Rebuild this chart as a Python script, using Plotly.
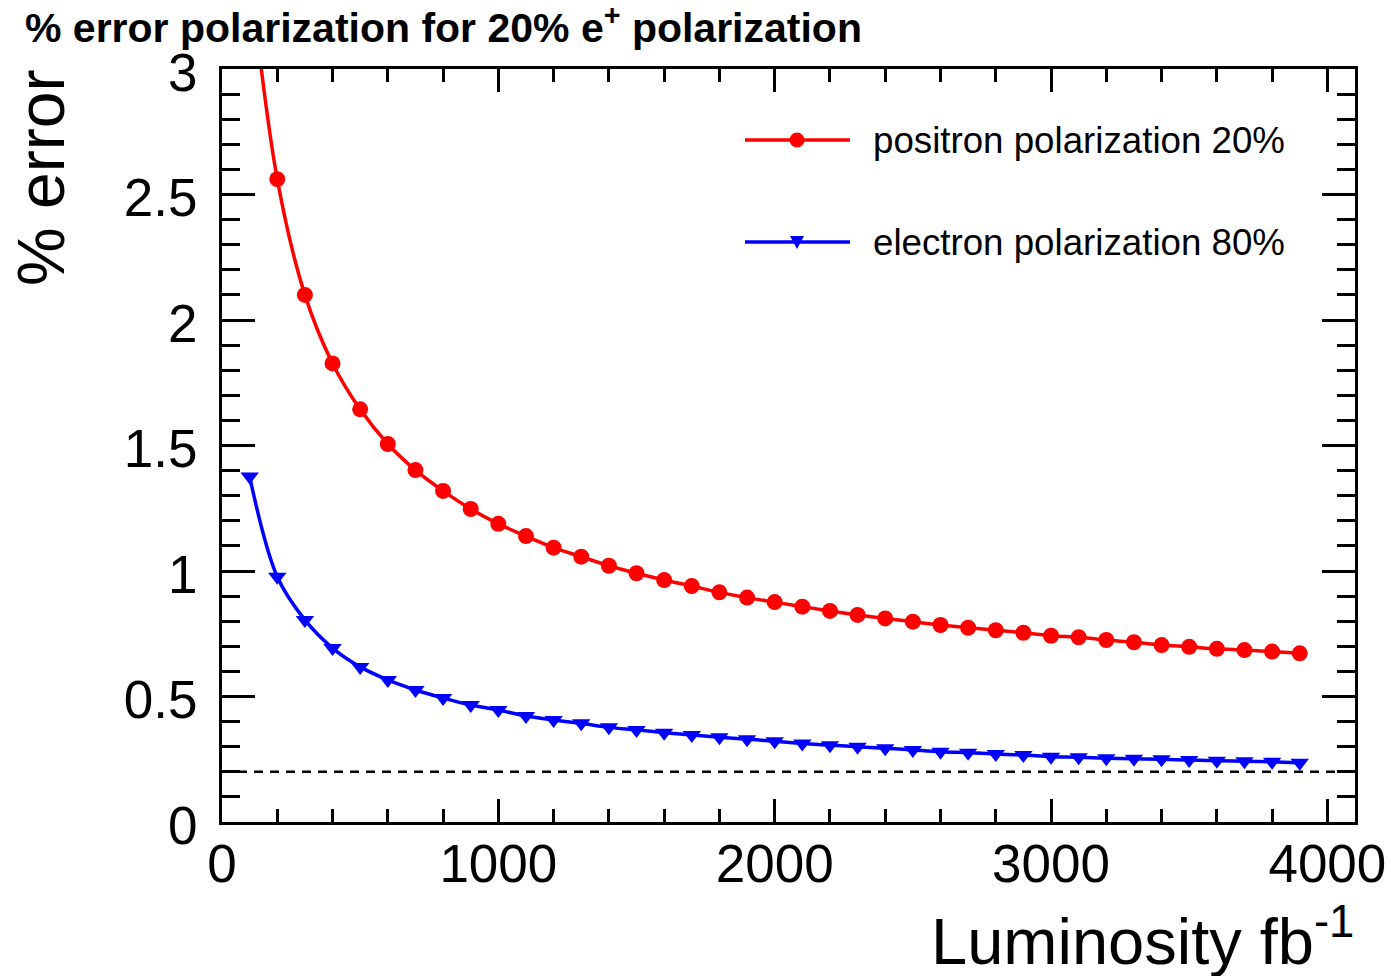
import plotly.graph_objects as go

# Integrated luminosity (fb^-1) at which the polarization error was evaluated
luminosity = [100, 200, 300, 400, 500, 600, 700, 800, 900, 1000,
              1100, 1200, 1300, 1400, 1500, 1600, 1700, 1800, 1900, 2000,
              2100, 2200, 2300, 2400, 2500, 2600, 2700, 2800, 2900, 3000,
              3100, 3200, 3300, 3400, 3500, 3600, 3700, 3800, 3900]

# % error on the positron polarization (20% e+ polarization)
positron_err = [3.40, 2.561, 2.100, 1.827, 1.644, 1.506, 1.402, 1.319, 1.247, 1.188,
                1.139, 1.093, 1.057, 1.021, 0.991, 0.964, 0.940, 0.915, 0.894, 0.876,
                0.858, 0.841, 0.825, 0.811, 0.798, 0.785, 0.774, 0.764, 0.754, 0.742,
                0.736, 0.725, 0.716, 0.705, 0.698, 0.690, 0.685, 0.679, 0.672]

# % error on the electron polarization (80%)
electron_err = [1.376, 0.977, 0.805, 0.693, 0.618, 0.566, 0.526, 0.494, 0.466, 0.446,
                0.422, 0.406, 0.393, 0.377, 0.367, 0.356, 0.347, 0.338, 0.330, 0.322,
                0.313, 0.306, 0.300, 0.294, 0.287, 0.280, 0.276, 0.271, 0.267, 0.260,
                0.258, 0.254, 0.252, 0.250, 0.247, 0.244, 0.242, 0.240, 0.236]

target_error = 0.2

series_names = ["positron polarization 20%", "electron polarization 80%"]
x_ticks = [0, 1000, 2000, 3000, 4000]
x_tick_text = ["0", "1000", "2000", "3000", "4000"]
y_ticks = [0, 0.5, 1, 1.5, 2, 2.5, 3]
y_tick_text = ["0", "0.5", "1", "1.5", "2", "2.5", "3"]

RED = "#ff0000"
BLUE = "#0000ff"
FONT = "Liberation Sans, Arial, Helvetica, sans-serif"

W, H = 1391, 976
M_L, M_R, M_T, M_B = 222, 36, 69, 154
PW, PH = W - M_L - M_R, H - M_T - M_B


def px_x(p):
    """page pixel -> paper x"""
    return (p - M_L) / PW


def px_y(p):
    """page pixel -> paper y"""
    return (H - M_B - p) / PH


fig = go.Figure()

fig.add_trace(go.Scatter(
    x=luminosity, y=positron_err, mode="lines+markers", name=series_names[0],
    line=dict(color=RED, width=3.5, shape="spline"),
    marker=dict(color=RED, size=16, symbol="circle"),
    showlegend=False,
))
fig.add_trace(go.Scatter(
    x=luminosity, y=electron_err, mode="lines+markers", name=series_names[1],
    line=dict(color=BLUE, width=3.5, shape="spline"),
    marker=dict(color=BLUE, size=16, symbol="triangle-down"),
    showlegend=False,
))

fig.add_hline(y=target_error, line=dict(color="black", width=2.5, dash="9px,7px"),
              layer="below")

# Legend box drawn with shapes so the sample lines are long like ROOT's TLegend
leg_rows = [140, 242]
for row, (name, col) in enumerate(zip(series_names, [RED, BLUE])):
    yp = px_y(leg_rows[row])
    fig.add_shape(type="line", xref="paper", yref="paper",
                  x0=px_x(745), x1=px_x(850), y0=yp, y1=yp,
                  line=dict(color=col, width=3.5))
    if row == 0:
        fig.add_shape(type="circle", xref="paper", yref="paper",
                      xsizemode="pixel", ysizemode="pixel",
                      xanchor=px_x(797), yanchor=yp,
                      x0=-7.5, x1=7.5, y0=-7.5, y1=7.5,
                      fillcolor=col, line=dict(width=0))
    else:
        fig.add_shape(type="path", xref="paper", yref="paper",
                      xsizemode="pixel", ysizemode="pixel",
                      xanchor=px_x(797), yanchor=yp,
                      path="M-7,6 L7,6 L0,-7 Z",
                      fillcolor=col, line=dict(width=0))
    fig.add_annotation(text=name, xref="paper", yref="paper",
                       x=px_x(871), y=yp, xanchor="left", yanchor="middle",
                       showarrow=False, font=dict(family=FONT, size=36.7, color="black"))

# Axis titles placed ROOT-style (aligned to the end of each axis)
fig.add_annotation(text="Luminosity fb<sup>-1</sup>", xref="paper", yref="paper",
                   x=px_x(1356), y=px_y(937), xanchor="right", yanchor="middle",
                   showarrow=False, font=dict(family=FONT, size=65, color="black"))
fig.add_annotation(text="% error", xref="paper", yref="paper", textangle=-90,
                   x=px_x(41), y=px_y(178), xanchor="center", yanchor="middle",
                   showarrow=False, font=dict(family=FONT, size=66, color="black"))

axis_common = dict(
    showline=True, linecolor="black", linewidth=3, mirror="ticks",
    ticks="inside", tickcolor="black", tickwidth=3,
    showgrid=False, zeroline=False,
    tickfont=dict(family=FONT, size=53, color="black"),
)

fig.update_xaxes(
    range=[0, 4100], tickmode="array", tickvals=x_ticks, ticktext=x_tick_text,
    ticklen=23, ticklabelstandoff=-7,
    minor=dict(ticks="inside", dtick=200, ticklen=13, tickwidth=3, tickcolor="black",
               showgrid=False),
    **axis_common,
)
fig.update_yaxes(
    range=[0, 3], tickmode="array", tickvals=y_ticks, ticktext=y_tick_text,
    ticklen=33, ticklabelstandoff=11, ticklabelshift=3,
    minor=dict(ticks="inside", dtick=0.1, ticklen=18, tickwidth=3, tickcolor="black",
               showgrid=False),
    **axis_common,
)

fig.update_layout(
    width=W, height=H,
    margin=dict(l=M_L, r=M_R, t=M_T, b=M_B, autoexpand=False),
    paper_bgcolor="white", plot_bgcolor="white",
    title=dict(text="<b>% error polarization for 20% e<sup>+</sup> polarization</b>",
               x=25 / W, xanchor="left", xref="container",
               y=1 - 28 / H, yanchor="middle", yref="container",
               font=dict(family=FONT, size=41, color="black")),
    font=dict(family=FONT, color="black"),
    showlegend=False,
)

fig.write_html("out.html")
